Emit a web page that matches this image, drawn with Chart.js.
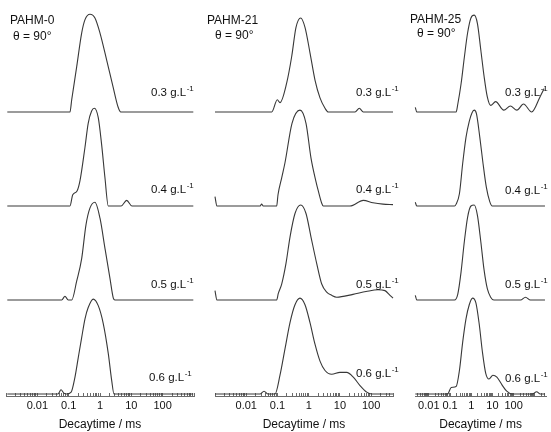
<!DOCTYPE html>
<html><head><meta charset="utf-8">
<script src="https://cdn.jsdelivr.net/npm/chart.js@4.4.1/dist/chart.umd.min.js"></script>
<style>
html,body{margin:0;padding:0;background:#fff;}
#wrap{position:relative;width:551px;height:432px;overflow:hidden;font-family:"Liberation Sans",Arial,sans-serif;color:#111;}
canvas{position:absolute;top:0;}
.lbl{position:absolute;white-space:nowrap;font-size:11.5px;line-height:11.5px;}
.ttl{position:absolute;white-space:nowrap;font-size:12px;line-height:12px;}
.sup{font-size:8px;position:relative;top:-5px;margin-left:0.5px;}
</style></head><body><div id="wrap">
<canvas id="c0" width="200" height="432" style="left:0px"></canvas>
<canvas id="c1" width="195" height="432" style="left:205px"></canvas>
<canvas id="c2" width="146" height="432" style="left:405px"></canvas>
</div>
<script>
// ---------------- DATA ----------------
const PANEL_NAMES = ['PAHM-0', 'PAHM-21', 'PAHM-25'];
const ANGLE_LABEL = 'θ = 90°';
const CONC_LABELS = ['0.3 g.L', '0.4 g.L', '0.5 g.L', '0.6 g.L'];
const CONC_UNIT_EXP = '-1';
const X_TITLE = 'Decaytime / ms';
const MAJOR_TICKS = [0.01, 0.1, 1, 10, 100];
const TICK_LABELS = ['0.01', '0.1', '1', '10', '100'];

// PAHM-0
const p0_c03_t = [0.0011, 0.11, 0.125, 0.18, 0.26, 0.33, 0.48, 0.69, 1.0, 1.64, 2.6, 3.8, 4.6, 950];
const p0_c03_v = [0, 0, 0.13, 0.48, 0.84, 0.98, 1.04, 1.0, 0.84, 0.55, 0.27, 0.05, 0, 0];
const p0_c04_t = [0.0011, 0.11, 0.135, 0.185, 0.23, 0.33, 0.42, 0.54, 0.66, 0.88, 1.13, 1.44, 1.84, 4.7, 7.1, 10.5, 950];
const p0_c04_v = [0, 0, 0.12, 0.16, 0.27, 0.62, 0.88, 1.01, 1.04, 0.94, 0.65, 0.3, 0, 0, 0.06, 0, 0];
const p0_c05_t = [0.0011, 0.06, 0.076, 0.097, 0.125, 0.18, 0.26, 0.357, 0.48, 0.69, 1.0, 1.44, 2.08, 2.66, 3.0, 950];
const p0_c05_v = [0, 0, 0.04, 0, 0, 0.2, 0.44, 0.8, 0.98, 1.04, 0.87, 0.55, 0.23, 0.02, 0, 0];
const p0_c06_t = [0.0011, 0.0455, 0.057, 0.07, 0.086, 0.12, 0.159, 0.203, 0.26, 0.332, 0.42, 0.61, 0.88, 1.27, 1.84, 2.37, 2.8, 950];
const p0_c06_v = [0, 0, 0.045, 0.01, 0, 0.02, 0.18, 0.39, 0.6, 0.8, 0.92, 1.01, 0.94, 0.75, 0.43, 0.14, 0, 0];

// PAHM-21
const p21_c03_t = [0.001, 0.0654, 0.0988, 0.1205, 0.1976, 0.2855, 0.392, 0.554, 0.761, 1.10, 1.59, 2.30, 3.33, 4.24, 30.4, 41.7, 56, 500];
const p21_c03_v = [0, 0, 0.13, 0.1, 0.31, 0.59, 0.9, 1.0, 0.9, 0.63, 0.34, 0.15, 0.04, 0, 0, 0.04, 0, 0];
const p21_c04_t = [0.001, 0.00115, 0.028, 0.031, 0.035, 0.0944, 0.104, 0.1365, 0.174, 0.292, 0.526, 0.82, 1.185, 1.71, 2.03, 2.61, 2.93, 21, 56, 114.5, 239, 500];
const p21_c04_v = [0.1, 0, 0, 0.02, 0, 0, 0.12, 0.3, 0.46, 0.88, 1.02, 0.88, 0.51, 0.26, 0.16, 0.03, 0, 0, 0.06, 0.035, 0.02, 0.015];
const p21_c05_t = [0.001, 0.00115, 0.0944, 0.1064, 0.1365, 0.1875, 0.252, 0.364, 0.554, 0.82, 1.185, 1.80, 2.61, 3.77, 5.45, 7.88, 26.2, 68.4, 165.5, 277, 401, 500];
const p21_c05_v = [0.1, 0, 0, 0.07, 0.17, 0.39, 0.67, 0.92, 1.01, 0.92, 0.67, 0.39, 0.17, 0.085, 0.05, 0.03, 0.06, 0.09, 0.11, 0.1, 0.05, 0.02];
const p21_c06_t = [0.001, 0.0276, 0.0371, 0.0498, 0.0833, 0.1205, 0.174, 0.252, 0.364, 0.526, 0.761, 1.10, 1.59, 2.30, 3.33, 5.45, 10.05, 16.5, 26.8, 43.9, 72, 104, 500];
const p21_c06_v = [0, 0, 0.03, 0, 0, 0.2, 0.48, 0.76, 0.95, 1.02, 0.95, 0.76, 0.53, 0.35, 0.25, 0.21, 0.23, 0.23, 0.18, 0.09, 0.02, 0, 0];

// PAHM-25
const p25_c03_t = [0.0023, 0.0027, 0.194, 0.231, 0.332, 0.472, 0.673, 0.968, 1.38, 1.96, 2.83, 4.03, 5.73, 8.24, 14.1, 34.3, 70.3, 142, 292, 710, 1746, 2760];
const p25_c03_v = [0.05, 0, 0, 0.08, 0.3, 0.58, 0.84, 1.0, 1.03, 0.94, 0.66, 0.38, 0.16, 0.07, 0.11, 0.02, 0.064, 0.02, 0.085, 0, 0.16, 0.25];
const p25_c04_t = [0.0023, 0.0027, 0.162, 0.194, 0.277, 0.394, 0.566, 0.807, 1.08, 1.38, 1.77, 2.54, 3.61, 5.15, 7.41, 9.8, 3000];
const p25_c04_v = [0.04, 0, 0, 0.02, 0.13, 0.45, 0.73, 0.9, 0.99, 1.02, 0.98, 0.73, 0.45, 0.2, 0.05, 0, 0];
const p25_c05_t = [0.0023, 0.0027, 0.162, 0.231, 0.332, 0.472, 0.673, 0.968, 1.38, 1.96, 2.83, 4.03, 5.73, 8.24, 11.7, 212, 361, 618, 3000];
const p25_c05_v = [0.05, 0, 0, 0.06, 0.3, 0.62, 0.88, 1.0, 1.01, 0.9, 0.62, 0.32, 0.12, 0.03, 0, 0, 0.03, 0, 0];
const p25_c06_t = [0.0023, 0.0766, 0.114, 0.194, 0.277, 0.394, 0.566, 0.807, 1.15, 1.66, 2.36, 3.36, 4.83, 6.87, 10.5, 16.2, 27.7, 47.2, 83.4, 766, 1213, 1803, 3000];
const p25_c06_v = [0, 0, 0.07, 0.08, 0.25, 0.55, 0.8, 0.95, 1.02, 0.97, 0.75, 0.45, 0.22, 0.16, 0.2, 0.18, 0.1, 0.03, 0, 0, 0.025, 0, 0];

// ---------------- LAYOUT / STYLE ----------------
const FONT = '"Liberation Sans", Arial, sans-serif';
const TEXT_COLOR = '#111';
const LINE_COLOR = '#383838';
const AXIS_COLOR = '#6a6a6a';
const STACK_STEP = 1;

const PANELS = [
  {canvas: 'c0', tMin: 0.001, tMax: 1000, padL: 6, padR: 6,
   T: [p0_c03_t, p0_c04_t, p0_c05_t, p0_c06_t], V: [p0_c03_v, p0_c04_v, p0_c05_v, p0_c06_v],
   name: [10, 24], angle: [13, 40], conc: [[151, 97], [151, 193.5], [151, 288.5], [149, 382]]},
  {canvas: 'c1', tMin: 0.001, tMax: 500, padL: 10, padR: 7,
   T: [p21_c03_t, p21_c04_t, p21_c05_t, p21_c06_t], V: [p21_c03_v, p21_c04_v, p21_c05_v, p21_c06_v],
   name: [207, 24], angle: [215, 39.5], conc: [[356, 97], [356, 193.5], [356, 288.5], [356, 378]]},
  {canvas: 'c2', tMin: 0.00223, tMax: 3430, padL: 10, padR: 3,
   T: [p25_c03_t, p25_c04_t, p25_c05_t, p25_c06_t], V: [p25_c03_v, p25_c04_v, p25_c05_v, p25_c06_v],
   name: [410, 23.3], angle: [417, 37], conc: [[505, 97], [505, 195], [505, 288.5], [505, 383]]}
];

function tickValues(tMin, tMax) {
  const out = [];
  for (let e = -4; e <= 4; e++) {
    for (let m = 1; m <= 9; m++) {
      const v = parseFloat((m * Math.pow(10, e)).toPrecision(6));
      if (v >= tMin * 0.999 && v <= tMax * 1.001) out.push(v);
    }
  }
  return out;
}
function tickLabel(v) {
  for (let i = 0; i < MAJOR_TICKS.length; i++) {
    if (Math.abs(Math.log10(v) - Math.log10(MAJOR_TICKS[i])) < 1e-6) return TICK_LABELS[i];
  }
  return '';
}

const wrap = document.getElementById('wrap');
function addText(cls, left, baseline, html, asc) {
  const d = document.createElement('div');
  d.className = cls;
  d.style.left = left + 'px';
  d.style.top = (baseline - asc) + 'px';
  d.innerHTML = html;
  wrap.appendChild(d);
}

PANELS.forEach((p, pi) => {
  const n = p.T.length;
  const datasets = p.T.map((ts, k) => ({
    data: ts.map((t, i) => ({x: t, y: p.V[k][i] + (n - 1 - k) * STACK_STEP})),
    borderColor: LINE_COLOR, borderWidth: 1.1, pointRadius: 0, fill: false,
    cubicInterpolationMode: 'monotone', clip: false
  }));
  new Chart(document.getElementById(p.canvas), {
    type: 'line',
    data: {datasets},
    options: {
      responsive: false, animation: false, devicePixelRatio: 1,
      layout: {padding: {left: p.padL, right: p.padR, top: 10, bottom: 0}},
      plugins: {legend: {display: false}, tooltip: {enabled: false}, title: {display: false}},
      scales: {
        x: {
          type: 'logarithmic', min: p.tMin, max: p.tMax, bounds: 'data',
          afterBuildTicks: s => { s.ticks = tickValues(p.tMin, p.tMax).map(v => ({value: v, major: false})); },
          afterFit: s => { s.height = 36; },
          ticks: {autoSkip: false, maxRotation: 0, minRotation: 0, padding: 6,
                  font: {size: 11, family: FONT}, color: TEXT_COLOR,
                  callback: v => tickLabel(v)},
          grid: {display: true, drawOnChartArea: false, drawTicks: true, tickLength: -3, color: AXIS_COLOR, lineWidth: 1},
          border: {display: true, color: AXIS_COLOR, width: 1},
          title: {display: true, text: X_TITLE, font: {size: 12, family: FONT}, color: TEXT_COLOR, padding: {top: 0, bottom: 0}}
        },
        y: {display: false, min: -0.021, max: 4.085}
      }
    }
  });
  addText('ttl', p.name[0], p.name[1], PANEL_NAMES[pi], 10.2);
  addText('ttl', p.angle[0], p.angle[1], ANGLE_LABEL, 10.2);
  p.conc.forEach((c, k) => {
    addText('lbl', c[0], c[1], CONC_LABELS[k] + '<span class="sup">' + CONC_UNIT_EXP + '</span>', 9.7);
  });
});
</script></body></html>
